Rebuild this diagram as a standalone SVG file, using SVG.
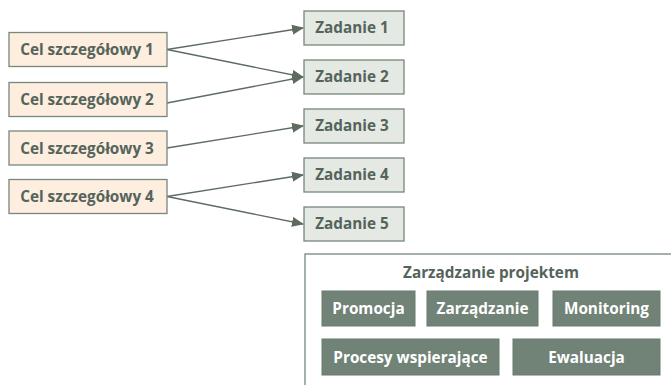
<svg xmlns="http://www.w3.org/2000/svg" width="671" height="385" viewBox="0 0 671 385">
<style>
.cel{fill:#fdeee0;stroke:#77877b;stroke-width:1.3}
.zad{fill:#e4e9e4;stroke:#77877b;stroke-width:1.3}
.in{fill:#718277;stroke:#6a7a70;stroke-width:1}
.t{font-family:"Open Sans","Liberation Sans",sans-serif;font-weight:bold;font-size:15.3px;fill:#55645a;text-anchor:middle}
.w{fill:#ffffff}
.c{stroke:#5d6b61;stroke-width:1.3;fill:none;marker-end:url(#ah)}
</style>
<defs>
<marker id="ah" markerWidth="12" markerHeight="10" refX="11" refY="5" orient="auto" markerUnits="userSpaceOnUse">
<path d="M0,0 L12,5 L0,10 Z" fill="#5d6b61"/>
</marker>
</defs>
<rect width="671" height="385" fill="#ffffff"/>
<g id="connectors">
<line class="c" x1="167" y1="49.5" x2="303" y2="28"/>
<line class="c" x1="167" y1="49.5" x2="303" y2="77"/>
<line class="c" x1="167" y1="103" x2="303" y2="77"/>
<line class="c" x1="167" y1="148" x2="303" y2="126"/>
<line class="c" x1="167" y1="196.5" x2="303" y2="175"/>
<line class="c" x1="167" y1="196.5" x2="303" y2="224"/>
</g>
<g id="cel1"><rect class="cel" x="9" y="32.5" width="158" height="34"/><text class="t" x="87" y="55">Cel szczegółowy 1</text></g>
<g id="cel2"><rect class="cel" x="9" y="82.5" width="158" height="34"/><text class="t" x="87" y="105">Cel szczegółowy 2</text></g>
<g id="cel3"><rect class="cel" x="9" y="131" width="158" height="34"/><text class="t" x="87" y="153.5">Cel szczegółowy 3</text></g>
<g id="cel4"><rect class="cel" x="9" y="179.5" width="158" height="34"/><text class="t" x="87" y="202">Cel szczegółowy 4</text></g>
<g id="zad1"><rect class="zad" x="304" y="11" width="100" height="34"/><text class="t" x="352" y="33">Zadanie 1</text></g>
<g id="zad2"><rect class="zad" x="304" y="60" width="100" height="34"/><text class="t" x="352" y="82">Zadanie 2</text></g>
<g id="zad3"><rect class="zad" x="304" y="109" width="100" height="34"/><text class="t" x="352" y="131">Zadanie 3</text></g>
<g id="zad4"><rect class="zad" x="304" y="158" width="100" height="34"/><text class="t" x="352" y="180">Zadanie 4</text></g>
<g id="zad5"><rect class="zad" x="304" y="207" width="100" height="34"/><text class="t" x="352" y="229">Zadanie 5</text></g>
<g id="zarzadzanie-projektem">
<rect x="305" y="254" width="380" height="140" fill="#ffffff" stroke="#77877b" stroke-width="1.3"/>
<text class="t" x="491" y="278">Zarządzanie projektem</text>
</g>
<g id="promocja"><rect class="in" x="322" y="291" width="93" height="35"/><text class="t w" x="368.5" y="314">Promocja</text></g>
<g id="zarzadzanie"><rect class="in" x="427" y="291" width="111" height="35"/><text class="t w" x="482.5" y="314">Zarządzanie</text></g>
<g id="monitoring"><rect class="in" x="553" y="291" width="107" height="35"/><text class="t w" x="606.5" y="314">Monitoring</text></g>
<g id="procesy"><rect class="in" x="322" y="339" width="177" height="36"/><text class="t w" x="410.5" y="362.5">Procesy wspierające</text></g>
<g id="ewaluacja"><rect class="in" x="513" y="339" width="147" height="36"/><text class="t w" x="586.5" y="362.5">Ewaluacja</text></g>
</svg>
